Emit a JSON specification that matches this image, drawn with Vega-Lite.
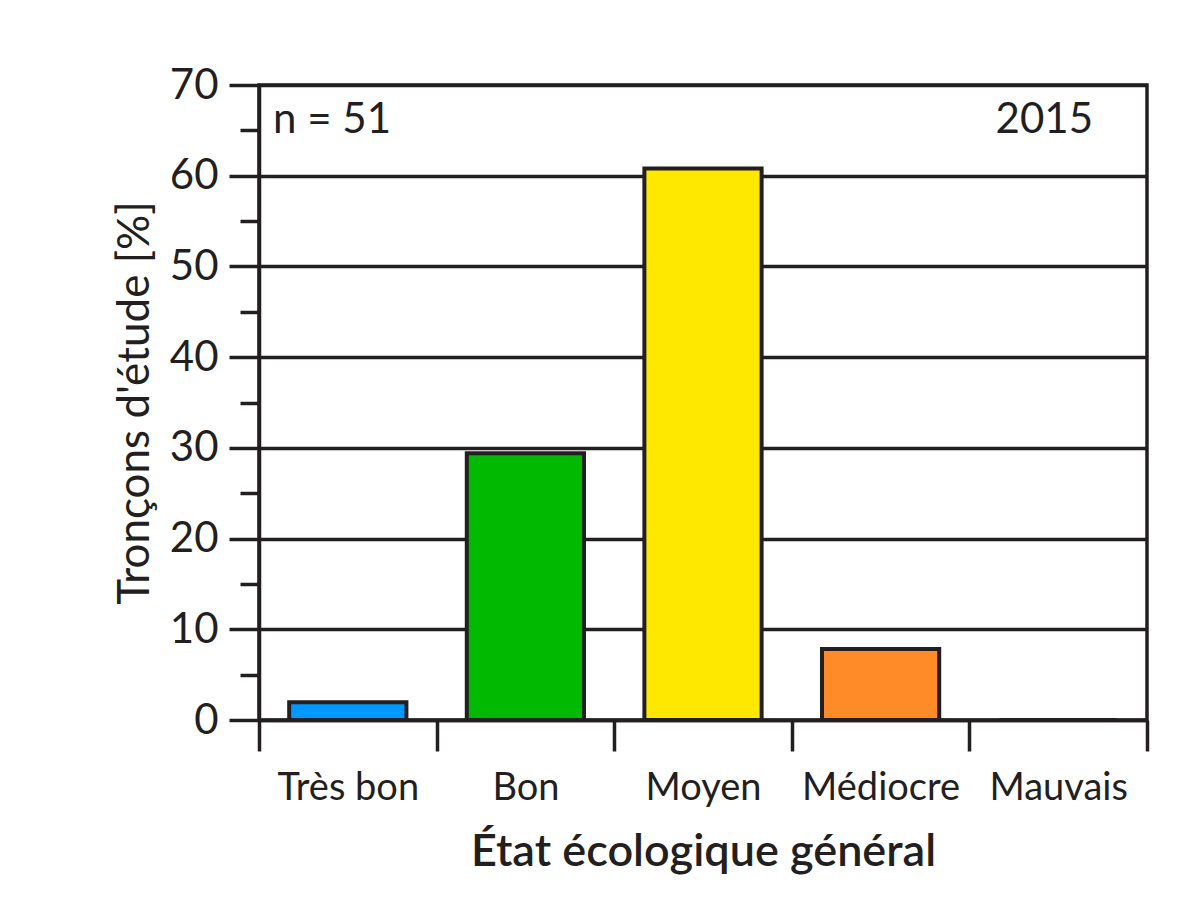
{
  "$schema": "https://vega.github.io/schema/vega-lite/v6.json",
  "width": 888,
  "height": 635,
  "autosize": {"type": "none"},
  "padding": {"left": 259, "top": 85, "right": 40, "bottom": 188},
  "background": "white",
  "config": {
    "font": "Lato",
    "view": {"stroke": "#231f20", "strokeWidth": 3.5},
    "axis": {
      "domainColor": "#231f20",
      "domainWidth": 3.5,
      "tickColor": "#231f20",
      "tickWidth": 3.5,
      "gridColor": "#231f20",
      "gridWidth": 3.5,
      "labelColor": "#231f20",
      "titleColor": "#231f20",
      "labelFont": "Lato",
      "titleFont": "Lato"
    }
  },
  "datasets": {
    "bars": [
      {"etat": "Très bon", "pct": 1.96, "couleur": "#0099ff"},
      {"etat": "Bon", "pct": 29.4, "couleur": "#00b900"},
      {"etat": "Moyen", "pct": 60.8, "couleur": "#ffe800"},
      {"etat": "Médiocre", "pct": 7.84, "couleur": "#ff8a28"},
      {"etat": "Mauvais", "pct": 0, "couleur": "#ff0000"}
    ],
    "notes": [
      {"texte": "n = 51", "etat": "Très bon", "pct": 70}
    ],
    "notes2": [
      {"texte": "2015", "etat": "Mauvais", "pct": 70}
    ]
  },
  "layer": [
    {
      "data": {"name": "bars"},
      "mark": {"type": "bar", "stroke": "#231f20", "strokeWidth": 4, "width": {"band": 0.66}},
      "encoding": {
        "x": {
          "field": "etat",
          "type": "nominal",
          "sort": ["Très bon", "Bon", "Moyen", "Médiocre", "Mauvais"],
          "scale": {"domain": ["Très bon", "Bon", "Moyen", "Médiocre", "Mauvais"], "paddingInner": 0, "paddingOuter": 0},
          "axis": {
            "title": "État écologique général",
            "titleFontSize": 45,
            "titleFontWeight": 600,
            "titlePadding": 22,
            "labelFontSize": 38,
            "labelAngle": 0,
            "labelPadding": 18,
            "tickSize": 31,
            "tickBand": "extent"
          }
        },
        "y": {
          "field": "pct",
          "type": "quantitative",
          "scale": {"domain": [0, 70], "nice": false},
          "axis": {
            "title": "Tronçons d'étude [%]",
            "titleFontSize": 44,
            "titleFontWeight": "normal",
            "titlePadding": 12,
            "values": [0, 10, 20, 30, 40, 50, 60, 70],
            "labelFontSize": 42,
            "labelPadding": 11,
            "tickSize": 30,
            "grid": true,
            "orient": "left"
          }
        },
        "color": {"field": "couleur", "type": "nominal", "scale": null, "legend": null}
      }
    },
    {
      "data": {"name": "notes"},
      "mark": {"type": "text", "align": "left", "baseline": "alphabetic", "dx": 14, "dy": 48, "fontSize": 42, "color": "#231f20"},
      "encoding": {
        "x": {"field": "etat", "type": "nominal", "bandPosition": 0, "sort": ["Très bon", "Bon", "Moyen", "Médiocre", "Mauvais"]},
        "y": {
          "field": "pct",
          "type": "quantitative",
          "scale": {"domain": [0, 70], "nice": false},
          "axis": {
            "orient": "left",
            "values": [5, 15, 25, 35, 45, 55, 65],
            "labels": false,
            "domain": false,
            "grid": false,
            "tickSize": 19,
            "title": null
          }
        },
        "text": {"field": "texte"}
      }
    },
    {
      "data": {"name": "notes2"},
      "mark": {"type": "text", "align": "right", "baseline": "alphabetic", "dx": -54, "dy": 48, "fontSize": 42, "color": "#231f20"},
      "encoding": {
        "x": {"field": "etat", "type": "nominal", "bandPosition": 1, "sort": ["Très bon", "Bon", "Moyen", "Médiocre", "Mauvais"]},
        "y": {"field": "pct", "type": "quantitative", "axis": null},
        "text": {"field": "texte"}
      }
    }
  ],
  "resolve": {"axis": {"y": "independent"}}
}
